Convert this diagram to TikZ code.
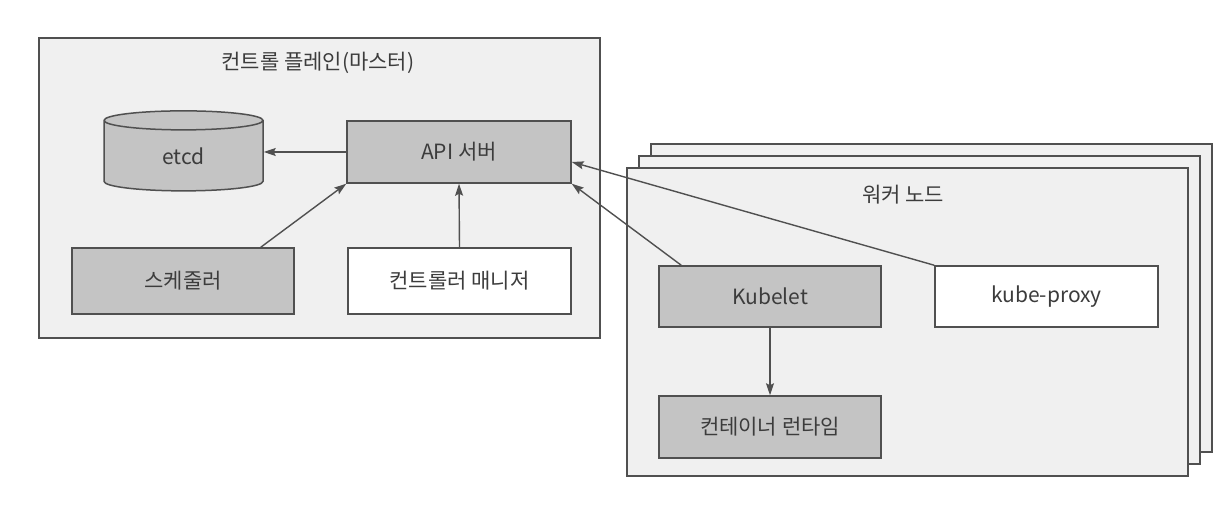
\documentclass[tikz,border=0pt]{standalone}
\usepackage{fontspec}
\setmainfont{Noto Sans CJK KR}
\usetikzlibrary{arrows.meta, positioning, shapes.geometric, calc}

\definecolor{edge}{RGB}{80,80,80}
\definecolor{ink}{RGB}{60,60,60}
\definecolor{boxgray}{RGB}{196,196,196}
\definecolor{pane}{RGB}{240,240,240}

\begin{document}
\begin{tikzpicture}[x=1pt, y=1pt,
  pane/.style ={draw=edge, line width=1.5pt, fill=pane, rectangle, inner sep=0pt},
  comp/.style ={draw=edge, line width=1.5pt, fill=boxgray, rectangle, inner sep=0pt,
                align=center, font=\fontsize{21}{25}\selectfont, text=ink},
  light/.style={comp, fill=white},
  store/.style={comp, cylinder, shape border rotate=90, aspect=0.45},
  title/.style={font=\fontsize{21}{25}\selectfont, text=ink},
  arr/.style  ={-{Stealth[length=12pt, width=8pt, inset=2pt]}, line width=1.4pt, draw=edge},
]
\useasboundingbox (0,0) rectangle (1232,505);

%% ---- Panes ----
\node[pane, minimum width=561pt, minimum height=300pt] (CP) at (319.5,317) {};
\node[title] (CPT) at (318,442) {컨트롤 플레인(마스터)};
\node[pane, minimum width=561pt, minimum height=308pt] (W3) at (931.5,207) {};
\node[pane, minimum width=561pt, minimum height=308pt] (W2) at (919.5,195) {};
\node[pane, minimum width=561pt, minimum height=308pt] (W1) at (907.5,183) {};
\node[title] (WT) at (903,310) {워커 노드};

%% ---- Control plane ----
\node[store, minimum width=159pt, minimum height=80pt] (ETCD) at (183.5,349) {etcd};
\node[comp,  minimum width=224pt, minimum height=62pt] (API)  at (459,353)   {API 서버};
\node[comp,  minimum width=222pt, minimum height=66pt] (SCH)  at (183,224)   {스케줄러};
\node[light, minimum width=223pt, minimum height=66pt] (CM)   at (459.5,224) {컨트롤러 매니저};

%% ---- Worker node ----
\node[comp,  minimum width=222pt, minimum height=61pt] (KL) at (770,208.5)    {Kubelet};
\node[light, minimum width=223pt, minimum height=61pt] (KP) at (1046.5,208.5) {kube-proxy};
\node[comp,  minimum width=222pt, minimum height=62pt] (CR) at (770,78)       {컨테이너 런타임};

%% ---- Connectors ----
\draw[arr] (API.west) -- (ETCD.east |- API.west);
\draw[arr] ([xshift=-34pt]SCH.north east) -- (API.south west);
\draw[arr] (CM.north) -- (API.south);
\draw[arr] ([xshift=23pt]KL.north west) -- (API.south east);
\draw[arr] (KP.north west) -- ([yshift=-10pt]API.east);
\draw[arr] (KL.south) -- (CR.north);

\end{tikzpicture}
\end{document}
